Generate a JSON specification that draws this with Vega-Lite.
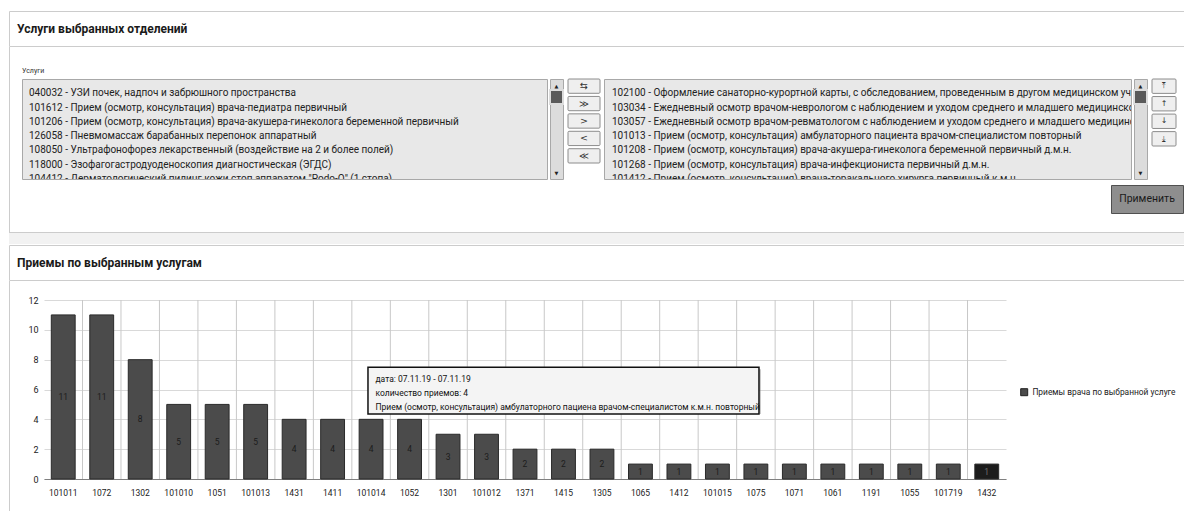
{
  "$schema": "https://vega.github.io/schema/vega-lite/v6.json",
  "background": "#ffffff",
  "padding": {"left": 8, "top": 10, "right": 0, "bottom": 0},
  "config": {
    "font": "Roboto",
    "view": {"stroke": null},
    "concat": {"spacing": 0},
    "text": {"color": "#1e1e1e"},
    "axisX": {"labelFontSize": 8.5, "labelColor": "#222222", "tickSize": 0, "labelPadding": 9, "domainColor": "#808080", "grid": false, "labelAngle": 0},
    "axisY": {"labelFontSize": 9, "labelColor": "#222222", "ticks": false, "domain": false, "grid": true, "gridColor": "#d9d9d9", "labelPadding": 6},
    "legend": {"symbolType": "square", "symbolSize": 49, "symbolStrokeColor": "#222222", "symbolStrokeWidth": 1, "labelFontSize": 8.4, "labelColor": "#222222", "labelLimit": 400, "labelOffset": 4, "padding": 0}
  },
  "datasets": {
    "bars": [
      {"code": "101011", "value": 11, "series": "Приемы врача по выбранной услуге"},
      {"code": "1072", "value": 11, "series": "Приемы врача по выбранной услуге"},
      {"code": "1302", "value": 8, "series": "Приемы врача по выбранной услуге"},
      {"code": "101010", "value": 5, "series": "Приемы врача по выбранной услуге"},
      {"code": "1051", "value": 5, "series": "Приемы врача по выбранной услуге"},
      {"code": "101013", "value": 5, "series": "Приемы врача по выбранной услуге"},
      {"code": "1431", "value": 4, "series": "Приемы врача по выбранной услуге"},
      {"code": "1411", "value": 4, "series": "Приемы врача по выбранной услуге"},
      {"code": "101014", "value": 4, "series": "Приемы врача по выбранной услуге"},
      {"code": "1052", "value": 4, "series": "Приемы врача по выбранной услуге"},
      {"code": "1301", "value": 3, "series": "Приемы врача по выбранной услуге"},
      {"code": "101012", "value": 3, "series": "Приемы врача по выбранной услуге"},
      {"code": "1371", "value": 2, "series": "Приемы врача по выбранной услуге"},
      {"code": "1415", "value": 2, "series": "Приемы врача по выбранной услуге"},
      {"code": "1305", "value": 2, "series": "Приемы врача по выбранной услуге"},
      {"code": "1065", "value": 1, "series": "Приемы врача по выбранной услуге"},
      {"code": "1412", "value": 1, "series": "Приемы врача по выбранной услуге"},
      {"code": "101015", "value": 1, "series": "Приемы врача по выбранной услуге"},
      {"code": "1075", "value": 1, "series": "Приемы врача по выбранной услуге"},
      {"code": "1071", "value": 1, "series": "Приемы врача по выбранной услуге"},
      {"code": "1061", "value": 1, "series": "Приемы врача по выбранной услуге"},
      {"code": "1191", "value": 1, "series": "Приемы врача по выбранной услуге"},
      {"code": "1055", "value": 1, "series": "Приемы врача по выбранной услуге"},
      {"code": "101719", "value": 1, "series": "Приемы врача по выбранной услуге"},
      {"code": "1432", "value": 1, "series": "Приемы врача по выбранной услуге"}
    ],
    "tip": [
      {"date": "дата: 07.11.19 - 07.11.19", "count": "количество приемов: 4", "service": "Прием (осмотр, консультация) амбулаторного пациена врачом-специалистом к.м.н. повторный"}
    ],
    "left": [
      {"row": 1, "label": "040032 - УЗИ почек, надпоч и забрюшного пространства"},
      {"row": 2, "label": "101612 - Прием (осмотр, консультация) врача-педиатра первичный"},
      {"row": 3, "label": "101206 - Прием (осмотр, консультация) врача-акушера-гинеколога беременной первичный"},
      {"row": 4, "label": "126058 - Пневмомассаж барабанных перепонок аппаратный"},
      {"row": 5, "label": "108050 - Ультрафонофорез лекарственный (воздействие на 2 и более полей)"},
      {"row": 6, "label": "118000 - Эзофагогастродуоденоскопия диагностическая (ЭГДС)"},
      {"row": 7, "label": "104412 - Дерматологический пилинг кожи стоп аппаратом \"Podo-O\" (1 стопа)"}
    ],
    "right": [
      {"row": 1, "label": "102100 - Оформление санаторно-курортной карты, с обследованием, проведенным в другом медицинском учреждении"},
      {"row": 2, "label": "103034 - Ежедневный осмотр врачом-неврологом с наблюдением и уходом среднего и младшего медицинского персонала"},
      {"row": 3, "label": "103057 - Ежедневный осмотр врачом-ревматологом с наблюдением и уходом среднего и младшего медицинского персонала"},
      {"row": 4, "label": "101013 - Прием (осмотр, консультация) амбулаторного пациента врачом-специалистом повторный"},
      {"row": 5, "label": "101208 - Прием (осмотр, консультация) врача-акушера-гинеколога беременной первичный д.м.н."},
      {"row": 6, "label": "101268 - Прием (осмотр, консультация) врача-инфекциониста первичный д.м.н."},
      {"row": 7, "label": "101412 - Прием (осмотр, консультация) врача-торакального хирурга первичный к.м.н."}
    ],
    "lbtn": [
      {"id": 1, "glyph": "⇆"},
      {"id": 2, "glyph": "≫"},
      {"id": 3, "glyph": ">"},
      {"id": 4, "glyph": "<"},
      {"id": 5, "glyph": "≪"}
    ],
    "rbtn": [
      {"id": 1, "glyph": "⤒"},
      {"id": 2, "glyph": "↑"},
      {"id": 3, "glyph": "↓"},
      {"id": 4, "glyph": "⤓"}
    ]
  },
  "spacing": 0,
  "vconcat": [
    {
      "width": 1175, "height": 35,
      "view": {"stroke": "#cccccc", "fill": "#ffffff"},
      "data": {"values": [{"t": "Услуги выбранных отделений"}]},
      "mark": {"type": "text", "align": "left", "baseline": "middle", "dx": 8, "fontSize": 12, "fontWeight": "bold", "color": "#1a1a1a"},
      "encoding": {
        "text": {"field": "t"},
        "x": {"datum": 0, "type": "quantitative", "scale": {"domain": [0, 1]}, "axis": null}
      }
    },
    {
      "spacing": 11,
      "hconcat": [
        {"width": 1, "height": 185, "data": {"values": []}, "mark": "rect", "encoding": {}, "view": {"fill": "#cccccc", "stroke": null}},
        {
          "spacing": 4,
          "vconcat": [
            {
              "width": 60, "height": 27,
              "data": {"values": [{"t": "Услуги"}]},
              "mark": {"type": "text", "align": "left", "baseline": "bottom", "fontSize": 7, "color": "#333333"},
              "encoding": {
                "text": {"field": "t"},
                "x": {"datum": 0, "type": "quantitative", "scale": {"domain": [0, 1]}, "axis": null},
                "y": {"datum": 0, "type": "quantitative", "scale": {"domain": [0, 1]}, "axis": null}
              }
            },
            {
              "spacing": 2,
              "hconcat": [
                {
                  "spacing": 0,
                  "hconcat": [
                    {
                      "width": 525, "height": 100,
                      "view": {"fill": "#e8e8e8", "stroke": "#a8a8a8"},
                      "data": {"name": "left"},
                      "mark": {"type": "text", "align": "left", "baseline": "middle", "dx": 7, "fontSize": 10, "clip": true, "color": "#222222"},
                      "encoding": {
                        "text": {"field": "label"},
                        "x": {"datum": 0, "type": "quantitative", "scale": {"domain": [0, 1]}, "axis": null},
                        "y": {"field": "row", "type": "ordinal", "scale": {"type": "point", "domain": [0, 1, 2, 3, 4, 5, 6, 7], "padding": 0}, "axis": null}
                      }
                    },
                    {
                      "width": 13, "height": 100,
                      "view": {"fill": "#dcdcdc", "stroke": "#a8a8a8"},
                      "data": {"values": [{}]},
                      "layer": [
                        {"mark": {"type": "rect", "fill": "#5a5a5a", "stroke": "#dcdcdc", "strokeWidth": 2},
                         "encoding": {"y": {"datum": 0.11, "type": "quantitative", "scale": {"domain": [0, 1], "reverse": true}, "axis": null}, "y2": {"datum": 0.25}}},
                        {"mark": {"type": "text", "text": "▲", "fontSize": 5, "font": "DejaVu Sans", "color": "#222222"},
                         "encoding": {"y": {"datum": 0.065, "type": "quantitative"}}},
                        {"mark": {"type": "text", "text": "▼", "fontSize": 5, "font": "DejaVu Sans", "color": "#222222"},
                         "encoding": {"y": {"datum": 0.94, "type": "quantitative"}}}
                      ]
                    }
                  ]
                },
                {
                  "width": 32, "height": 84,
                  "data": {"name": "lbtn"},
                  "encoding": {"y": {"field": "id", "type": "ordinal", "scale": {"type": "band", "paddingInner": 0.18, "paddingOuter": 0}, "axis": null}},
                  "layer": [
                    {"mark": {"type": "rect", "fill": "#efefef", "stroke": "#8c8c8c", "cornerRadius": 1}},
                    {"mark": {"type": "text", "fontSize": 9.5, "font": "DejaVu Sans", "color": "#333333"}, "encoding": {"text": {"field": "glyph"}}}
                  ]
                },
                {
                  "spacing": 0,
                  "hconcat": [
                    {
                      "width": 527, "height": 100,
                      "view": {"fill": "#e8e8e8", "stroke": "#a8a8a8"},
                      "data": {"name": "right"},
                      "mark": {"type": "text", "align": "left", "baseline": "middle", "dx": 8, "fontSize": 10, "clip": true, "color": "#222222"},
                      "encoding": {
                        "text": {"field": "label"},
                        "x": {"datum": 0, "type": "quantitative", "scale": {"domain": [0, 1]}, "axis": null},
                        "y": {"field": "row", "type": "ordinal", "scale": {"type": "point", "domain": [0, 1, 2, 3, 4, 5, 6, 7], "padding": 0}, "axis": null}
                      }
                    },
                    {
                      "width": 13, "height": 100,
                      "view": {"fill": "#dcdcdc", "stroke": "#a8a8a8"},
                      "data": {"values": [{}]},
                      "layer": [
                        {"mark": {"type": "rect", "fill": "#5a5a5a", "stroke": "#dcdcdc", "strokeWidth": 2},
                         "encoding": {"y": {"datum": 0.11, "type": "quantitative", "scale": {"domain": [0, 1], "reverse": true}, "axis": null}, "y2": {"datum": 0.25}}},
                        {"mark": {"type": "text", "text": "▲", "fontSize": 5, "font": "DejaVu Sans", "color": "#222222"},
                         "encoding": {"y": {"datum": 0.065, "type": "quantitative"}}},
                        {"mark": {"type": "text", "text": "▼", "fontSize": 5, "font": "DejaVu Sans", "color": "#222222"},
                         "encoding": {"y": {"datum": 0.94, "type": "quantitative"}}}
                      ]
                    }
                  ]
                },
                {
                  "width": 24, "height": 67,
                  "data": {"name": "rbtn"},
                  "encoding": {"y": {"field": "id", "type": "ordinal", "scale": {"type": "band", "paddingInner": 0.18, "paddingOuter": 0}, "axis": null}},
                  "layer": [
                    {"mark": {"type": "rect", "fill": "#efefef", "stroke": "#8c8c8c", "cornerRadius": 1}},
                    {"mark": {"type": "text", "fontSize": 8, "font": "DejaVu Sans", "color": "#333333"}, "encoding": {"text": {"field": "glyph"}}}
                  ]
                }
              ]
            },
            {
              "spacing": 0,
              "hconcat": [
                {"width": 1088, "height": 28, "data": {"values": []}, "mark": "rect", "encoding": {}},
                {
                  "width": 72, "height": 28,
                  "view": {"fill": "#8e8e8e", "stroke": "#505050"},
                  "data": {"values": [{"t": "Применить"}]},
                  "mark": {"type": "text", "fontSize": 10.5, "color": "#1a1a1a"},
                  "encoding": {"text": {"field": "t"}}
                }
              ]
            }
          ]
        }
      ]
    },
    {
      "spacing": 0,
      "vconcat": [
        {"width": 1175, "height": 1, "data": {"values": []}, "mark": "rect", "encoding": {}, "view": {"fill": "#cccccc", "stroke": null}},
        {"width": 1175, "height": 11, "data": {"values": []}, "mark": "rect", "encoding": {}, "view": {"fill": "#f2f2f2", "stroke": null}}
      ]
    },
    {
      "width": 1175, "height": 35,
      "view": {"stroke": "#cccccc", "fill": "#ffffff"},
      "data": {"values": [{"t": "Приемы по выбранным услугам"}]},
      "mark": {"type": "text", "align": "left", "baseline": "middle", "dx": 8, "fontSize": 12, "fontWeight": "bold", "color": "#1a1a1a"},
      "encoding": {
        "text": {"field": "t"},
        "x": {"datum": 0, "type": "quantitative", "scale": {"domain": [0, 1]}, "axis": null}
      }
    },
    {
      "spacing": 17,
      "hconcat": [
        {"width": 1, "height": 232, "data": {"values": []}, "mark": "rect", "encoding": {}, "view": {"fill": "#cccccc", "stroke": null}},
        {
          "spacing": 0,
          "vconcat": [
            {"width": 10, "height": 15, "data": {"values": []}, "mark": "rect", "encoding": {}},
            {
              "width": 962, "height": 179,
              "data": {"name": "bars"},
              "resolve": {"scale": {"y": "independent"}},
              "layer": [
                {
                  "layer": [
                    {
                      "transform": [{"filter": "datum.code !== '101011'"}],
                      "mark": {"type": "rule", "color": "#c8c8c8", "strokeWidth": 1},
                      "encoding": {
                        "x": {"field": "code", "type": "nominal", "title": null, "bandPosition": -0.306,
                              "scale": {"domain": ["101011","1072","1302","101010","1051","101013","1431","1411","101014","1052","1301","101012","1371","1415","1305","1065","1412","101015","1075","1071","1061","1191","1055","101719","1432"], "paddingInner": 0.38, "paddingOuter": 0.19}}
                      }
                    },
                    {
                      "mark": {"type": "bar", "stroke": "#2a2a2a", "strokeWidth": 1},
                      "encoding": {
                        "x": {"field": "code", "type": "nominal", "title": null,
                              "scale": {"domain": ["101011","1072","1302","101010","1051","101013","1431","1411","101014","1052","1301","101012","1371","1415","1305","1065","1412","101015","1075","1071","1061","1191","1055","101719","1432"], "paddingInner": 0.38, "paddingOuter": 0.19}},
                        "y": {"field": "value", "type": "quantitative", "title": null, "scale": {"domain": [0, 12]}, "axis": {"values": [0, 2, 4, 6, 8, 10, 12]}},
                        "fill": {"field": "series", "type": "nominal", "scale": {"range": ["#4b4b4b"]},
                                 "legend": {"orient": "none", "legendX": 1011, "legendY": 377, "title": null},
                                 "condition": {"test": "datum.code === '1432'", "value": "#1c1c1c"}}
                      }
                    }
                  ]
                },
                {
                  "mark": {"type": "text", "fontSize": 8.5, "baseline": "middle"},
                  "encoding": {
                    "x": {"field": "code", "type": "nominal", "title": null},
                    "y": {"field": "value", "type": "quantitative", "scale": {"domain": [0, 24]}, "axis": null},
                    "text": {"field": "value"},
                    "color": {"condition": {"test": "datum.code === '1432'", "value": "#6e6e6e"}, "value": "#1c1c1c"}
                  }
                },
                {
                  "data": {"name": "tip"},
                  "layer": [
                    {
                      "mark": {"type": "bar", "width": 391, "fill": "#777777", "opacity": 0.4, "xOffset": 2, "yOffset": 2},
                      "encoding": {
                        "x": {"datum": "1415", "type": "nominal"},
                        "y": {"datum": 7.5, "type": "quantitative", "scale": {"domain": [0, 12]}, "axis": null},
                        "y2": {"datum": 4.36}
                      }
                    },
                    {
                      "mark": {"type": "bar", "width": 391, "fill": "#f4f4f4", "stroke": "#111111", "strokeWidth": 1.5},
                      "encoding": {
                        "x": {"datum": "1415", "type": "nominal"},
                        "y": {"datum": 7.5, "type": "quantitative"},
                        "y2": {"datum": 4.36}
                      }
                    },
                    {
                      "mark": {"type": "text", "align": "left", "baseline": "middle", "dx": -188, "fontSize": 8.5, "color": "#111111"},
                      "encoding": {"x": {"datum": "1415", "type": "nominal"}, "y": {"datum": 6.7, "type": "quantitative"}, "text": {"field": "date"}}
                    },
                    {
                      "mark": {"type": "text", "align": "left", "baseline": "middle", "dx": -188, "fontSize": 8.5, "color": "#111111"},
                      "encoding": {"x": {"datum": "1415", "type": "nominal"}, "y": {"datum": 5.77, "type": "quantitative"}, "text": {"field": "count"}}
                    },
                    {
                      "mark": {"type": "text", "align": "left", "baseline": "middle", "dx": -188, "fontSize": 8.5, "color": "#111111"},
                      "encoding": {"x": {"datum": "1415", "type": "nominal"}, "y": {"datum": 4.83, "type": "quantitative"}, "text": {"field": "service"}}
                    }
                  ]
                }
              ]
            }
          ]
        }
      ]
    }
  ]
}
